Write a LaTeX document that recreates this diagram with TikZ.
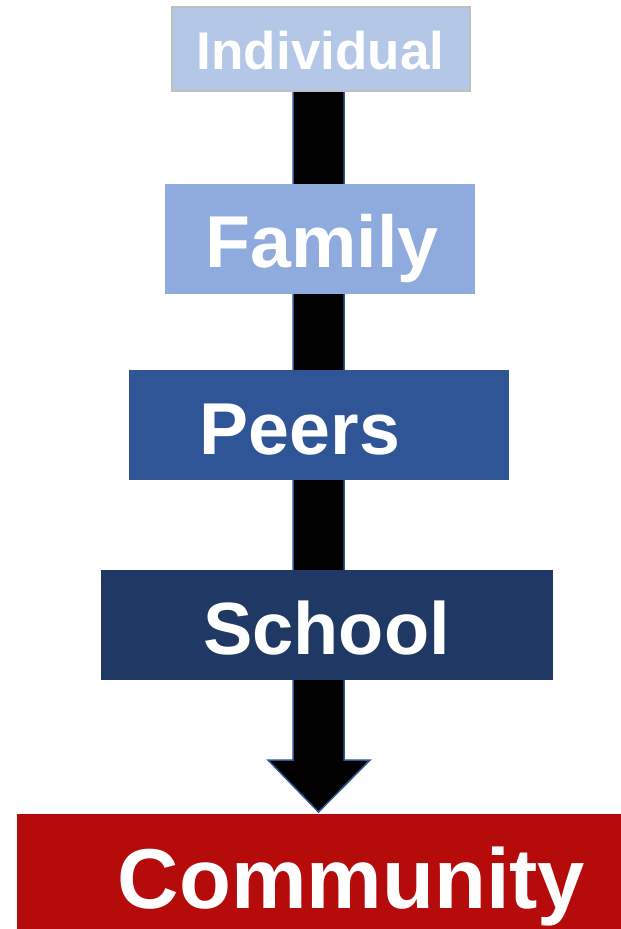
\documentclass[tikz,border=0pt]{standalone}
\usepackage{fontspec}
\setmainfont{Liberation Sans}
\definecolor{cind}{HTML}{B4C7E7}
\definecolor{cindb}{HTML}{BFBFBF}
\definecolor{cfam}{HTML}{8FAADC}
\definecolor{cpeer}{HTML}{2F5597}
\definecolor{csch}{HTML}{203864}
\definecolor{ccom}{HTML}{B50B0B}
\definecolor{carrow}{HTML}{2F5597}
\tikzset{
  box/.style={rectangle, inner sep=0pt, outer sep=0pt},
  lbl/.style={anchor=base, inner sep=0pt, text=white, font=\bfseries\fontsize{#1}{#1}\selectfont},
  bigarrow/.style={fill=black, draw=carrow, line width=1.5pt, line join=miter}
}
\begin{document}
\begin{tikzpicture}[x=1pt,y=-1pt]
\useasboundingbox (0,0) rectangle (621,929);
% arrow (behind boxes)
\coordinate (tip) at (318.5,812);
\draw[bigarrow] (293,80) -- (293,760) -- (268,760) -- (tip) -- (370,760) -- (344,760) -- (344,80) -- cycle;
% boxes
\node[box, fill=cind, draw=cindb, line width=1.5pt, minimum width=298, minimum height=84] (ind) at (321,49) {};
\node[box, fill=cfam, minimum width=310, minimum height=110] (fam) at (320,239) {};
\node[box, fill=cpeer, minimum width=380, minimum height=110] (peer) at (319,425) {};
\node[box, fill=csch, minimum width=452, minimum height=110] (sch) at (327,625) {};
\node[box, fill=ccom, minimum width=606, minimum height=117] (com) at (320,872) {};
% labels
\node[lbl=53] (tind) at (320.5,69) {Individual};
\node[lbl=73.5] (tfam) at (322,267) {Family};
\node[lbl=73.5] (tpeer) at (300,454) {Peers};
\node[lbl=74] (tsch) at (326.5,654) {School};
\node[lbl=85] (tcom) at (351.5,908) {Community};
\end{tikzpicture}
\end{document}
